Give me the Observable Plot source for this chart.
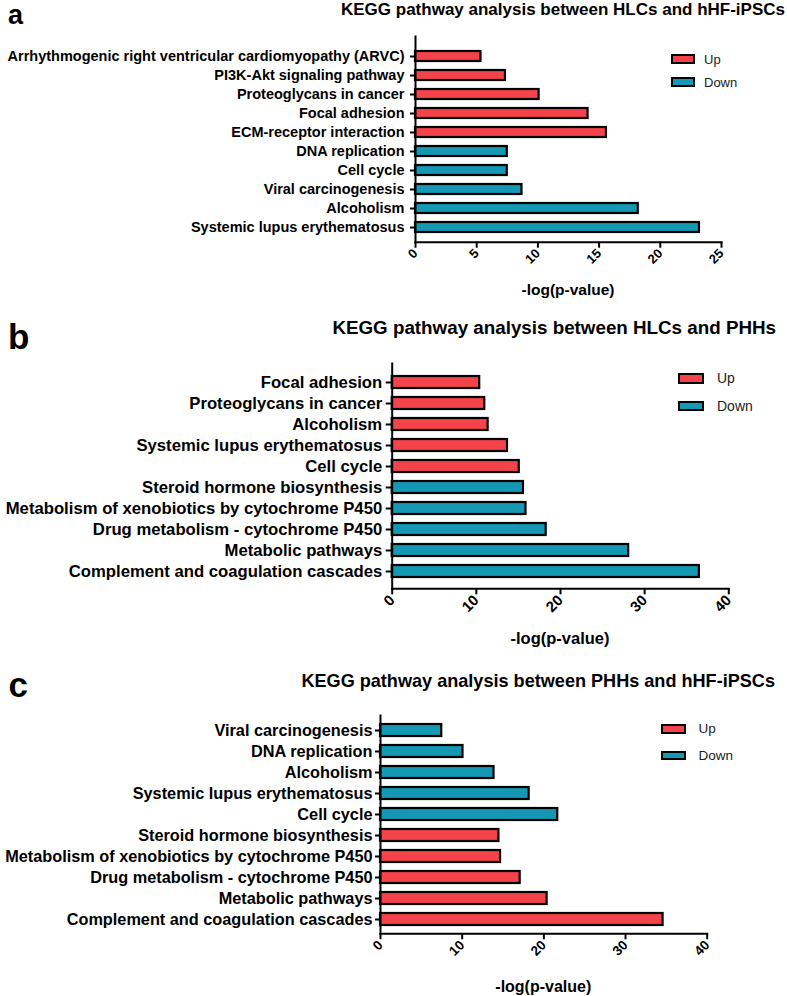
<!DOCTYPE html>
<html>
<head>
<meta charset="utf-8">
<script src="https://cdn.jsdelivr.net/npm/d3@7"></script>
<script src="https://cdn.jsdelivr.net/npm/@observablehq/plot@0.6"></script>
<style>
  html, body { margin: 0; padding: 0; background: #fff; }
  body { font-family: "Liberation Sans", Arial, sans-serif; color: #000; }
  #root { position: relative; width: 787px; height: 996px; overflow: hidden; }
  .abs { position: absolute; white-space: nowrap; }
  .swatch { position: absolute; box-sizing: border-box; border: 2.5px solid #000; }
  svg { position: absolute; left: 0; }
</style>
</head>
<body>
<div id="root"></div>
<script>
// ---------------- data ----------------
const legendKeys = ["Up", "Down"];
const legendColors = ["#f4434a", "#1598b3"];

const aTitle = "KEGG pathway analysis between HLCs and hHF-iPSCs";
const aPathways = ["Arrhythmogenic right ventricular cardiomyopathy (ARVC)", "PI3K-Akt signaling pathway",
  "Proteoglycans in cancer", "Focal adhesion", "ECM-receptor interaction", "DNA replication",
  "Cell cycle", "Viral carcinogenesis", "Alcoholism", "Systemic lupus erythematosus"];
const aValues = [5.35, 7.35, 10.1, 14.1, 15.6, 7.5, 7.5, 8.7, 18.2, 23.2];
const aDirection = ["Up", "Up", "Up", "Up", "Up", "Down", "Down", "Down", "Down", "Down"];
const aTicks = [0, 5, 10, 15, 20, 25];

const bTitle = "KEGG pathway analysis between HLCs and PHHs";
const bPathways = ["Focal adhesion", "Proteoglycans in cancer", "Alcoholism", "Systemic lupus erythematosus",
  "Cell cycle", "Steroid hormone biosynthesis", "Metabolism of xenobiotics by cytochrome P450",
  "Drug metabolism - cytochrome P450", "Metabolic pathways", "Complement and coagulation cascades"];
const bValues = [10.4, 11.0, 11.4, 13.7, 15.1, 15.6, 15.9, 18.3, 28.1, 36.5];
const bDirection = ["Up", "Up", "Up", "Up", "Up", "Down", "Down", "Down", "Down", "Down"];
const bTicks = [0, 10, 20, 30, 40];

const cTitle = "KEGG pathway analysis between PHHs and hHF-iPSCs";
const cPathways = ["Viral carcinogenesis", "DNA replication", "Alcoholism", "Systemic lupus erythematosus",
  "Cell cycle", "Steroid hormone biosynthesis", "Metabolism of xenobiotics by cytochrome P450",
  "Drug metabolism - cytochrome P450", "Metabolic pathways", "Complement and coagulation cascades"];
const cValues = [7.5, 10.1, 13.9, 18.2, 21.7, 14.5, 14.7, 17.1, 20.4, 34.6];
const cDirection = ["Down", "Down", "Down", "Down", "Down", "Up", "Up", "Up", "Up", "Up"];
const cTicks = [0, 10, 20, 30, 40];

const xLabel = "-log(p-value)";
const panelLetters = ["a", "b", "c"];

// ---------------- layout ----------------
const FONT = '"Liberation Sans", Arial, sans-serif';
const root = document.getElementById("root");

const panels = [
  {letter: panelLetters[0], title: aTitle, names: aPathways, values: aValues, dirs: aDirection, ticks: aTicks, xmax: 25,
   top: 0, height: 300, mt: 36, mb: 58.3, ml: 415, mr: 66, insetTop: 5.6, pi: 0.465, po: 0.33,
   yFont: 14.5, yTick: 5, yPad: 6, xFont: 13,
   letterL: 8, letterBase: 24.8, letterFs: 27,
   titleRight: 2, titleBase: 15.6, titleFs: 17, titleWeight: "bold",
   legX: 671, legY: [54, 77], swW: 24, swH: 10, legTextX: 704, legFs: 13,
   labX: 568, labY: 290, labFs: 15.5},
  {letter: panelLetters[1], title: bTitle, names: bPathways, values: bValues, dirs: bDirection, ticks: bTicks, xmax: 40,
   top: 300, height: 350, mt: 63, mb: 61.7, ml: 391.7, mr: 58.7, insetTop: 1, pi: 0.43, po: 0.41,
   yFont: 16.7, yTick: 6, yPad: 4, xFont: 15,
   letterL: 8, letterBase: 349, letterFs: 35,
   titleRight: 11, titleBase: 334.5, titleFs: 18.8, titleWeight: "bold",
   legX: 678, legY: [373, 400.5], swW: 26, swH: 10.5, legTextX: 717, legFs: 14,
   labX: 560, labY: 638, labFs: 16.5},
  {letter: panelLetters[2], title: cTitle, names: cPathways, values: cValues, dirs: cDirection, ticks: cTicks, xmax: 40,
   top: 650, height: 346, mt: 65, mb: 62.7, ml: 380, mr: 80.3, insetTop: 1, pi: 0.41, po: 0.37,
   yFont: 16.3, yTick: 5, yPad: 3, xFont: 13.5,
   letterL: 8.5, letterBase: 697, letterFs: 35,
   titleRight: 12, titleBase: 688, titleFs: 18.1, titleWeight: "bold",
   legX: 661, legY: [724, 750.5], swW: 24.5, swH: 9.5, legTextX: 698.5, legFs: 13.5,
   labX: 543.3, labY: 986.5, labFs: 16}
];

function addText(txt, css) {
  const d = document.createElement("div");
  d.className = "abs";
  d.textContent = txt;
  Object.assign(d.style, css);
  root.appendChild(d);
  return d;
}

// line box of height 0.8*fs: baseline sits 0.7465*fs below its top (Liberation Sans metrics)
function topForBaseline(base, fs) { return base - 0.7465 * fs; }

for (const p of panels) {
  const data = p.names.map((n, i) => ({name: n, value: p.values[i], dir: p.dirs[i]}));
  const chart = Plot.plot({
    width: 787,
    height: p.height,
    marginTop: p.mt,
    marginBottom: p.mb,
    marginLeft: p.ml,
    marginRight: p.mr,
    style: {fontFamily: FONT, color: "#000", background: "transparent", overflow: "visible"},
    x: {domain: [0, p.xmax]},
    y: {domain: p.names, paddingInner: p.pi, paddingOuter: p.po, insetTop: p.insetTop},
    color: {domain: legendKeys, range: legendColors},
    marks: [
      Plot.barX(data, {x: "value", y: "name", fill: "dir", stroke: "#000", strokeWidth: 2.2}),
      Plot.frame({anchor: "left", stroke: "#000", strokeWidth: 2}),
      Plot.frame({anchor: "bottom", stroke: "#000", strokeWidth: 2}),
      Plot.axisX({ticks: p.ticks, tickSize: 6, tickPadding: 3, tickRotate: -45, fontSize: p.xFont,
        fontWeight: "bold", stroke: "#000", strokeWidth: 2, label: null}),
      Plot.axisY({tickSize: p.yTick, tickPadding: p.yPad, fontSize: p.yFont, fontWeight: "bold",
        stroke: "#000", strokeWidth: 2, label: null})
    ]
  });
  chart.style.top = p.top + "px";
  root.appendChild(chart);

  // panel letter
  addText(p.letter, {left: p.letterL + "px", top: topForBaseline(p.letterBase, p.letterFs) + "px",
    fontSize: p.letterFs + "px", lineHeight: (0.8 * p.letterFs) + "px", fontWeight: "bold"});
  // title
  addText(p.title, {right: p.titleRight + "px", top: topForBaseline(p.titleBase, p.titleFs) + "px",
    fontSize: p.titleFs + "px", lineHeight: (0.8 * p.titleFs) + "px", fontWeight: p.titleWeight, textAlign: "right"});
  // x-axis label
  addText(xLabel, {left: p.labX + "px", top: (p.labY - p.labFs / 2) + "px",
    fontSize: p.labFs + "px", lineHeight: p.labFs + "px", fontWeight: "bold", transform: "translateX(-50%)"});
  // legend
  legendKeys.forEach((k, i) => {
    const sw = document.createElement("div");
    sw.className = "swatch";
    Object.assign(sw.style, {left: p.legX + "px", top: p.legY[i] + "px", width: p.swW + "px",
      height: p.swH + "px", background: legendColors[i]});
    root.appendChild(sw);
    const cy = p.legY[i] + p.swH / 2;
    addText(k, {left: p.legTextX + "px", top: (cy - p.legFs / 2) + "px", fontSize: p.legFs + "px",
      lineHeight: p.legFs + "px", color: "#222"});
  });
}
</script>
</body>
</html>
